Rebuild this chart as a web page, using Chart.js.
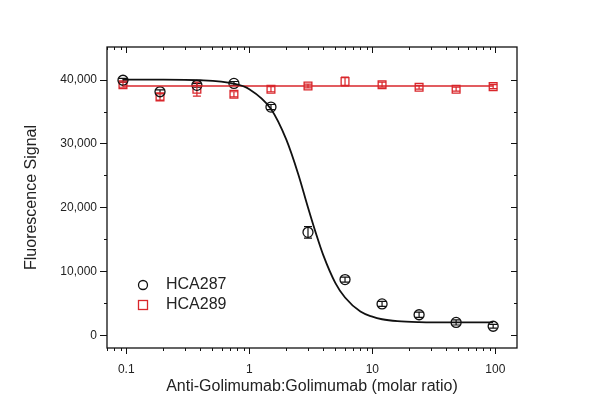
<!DOCTYPE html>
<html>
<head>
<meta charset="utf-8">
<script src="https://cdn.jsdelivr.net/npm/chart.js@4.4.1/dist/chart.umd.min.js"></script>
<style>
  body { margin: 0; background: #fff; }
</style>
</head>
<body>
<canvas id="chart" width="600" height="418"></canvas>
<script>
// molar ratios (x)
const ratios = [0.094, 0.188, 0.375, 0.75, 1.5, 3, 6, 12, 24, 48, 96];

// measured points
const hca287 = [39900, 38100, 39100, 39400, 35700, 16100, 8700, 4900, 3200, 2000, 1400];
const hca287Err = [300, 300, 300, 300, 400, 900, 400, 400, 400, 400, 300];
const hca289 = [39200, 37300, 38500, 37700, 38500, 39000, 39700, 39200, 38800, 38500, 38900];
const hca289Err = [400, 500, 1100, 400, 400, 300, 700, 400, 300, 300, 300];

// fitted curves
const fit287X = [0.094, 0.2, 0.4, 0.75, 1.0, 1.5, 2.0, 2.5, 3.0, 3.5, 4.0, 5.0, 6.0, 8.0, 10, 12, 16, 24, 48, 96];
const fit287Y = [40000, 40000, 39900, 39350, 38500, 35400, 30600, 25200, 20000, 15800, 12500, 8200, 5900, 3700, 2900, 2500, 2200, 2050, 2000, 2000];
const fit289X = [0.094, 96];
const fit289Y = [39000, 39000];

const seriesNames = ['HCA287', 'HCA289'];
const xTickLabels = [0.1, 1, 10, 100];
const yTickLabels = [0, 10000, 20000, 30000, 40000];

const RED = '#d9262b';
const FONT = "'Liberation Sans', Arial, sans-serif";

// minor tick positions for the log axis
const xTickValues = [];
for (let e = -2; e <= 2; e++) {
    for (let k = 1; k <= 9; k++) {
        const v = k * Math.pow(10, e);
        if (v >= 0.069 && v <= 150) xTickValues.push(v);
    }
}
const yTickValues = [0, 5000, 10000, 15000, 20000, 25000, 30000, 35000, 40000];

function isMajorX(v) {
    return xTickLabels.some(t => Math.abs(t - v) / t < 1e-6);
}

function pts(xs, ys) {
    return xs.map((x, i) => ({ x: x, y: ys[i] }));
}

const framePlugin = {
    id: 'frame',
    beforeDatasetsDraw(chart) {
        const ctx = chart.ctx;
        const x = chart.scales.x, y = chart.scales.y;
        // error bars
        const sets = [[hca287, hca287Err, '#111'], [hca289, hca289Err, RED]];
        ctx.save();
        ctx.lineWidth = 1.2;
        sets.forEach(([vals, errs, col]) => {
            ctx.strokeStyle = col;
            ratios.forEach((r, i) => {
                const px = x.getPixelForValue(r);
                const y1 = y.getPixelForValue(vals[i] - errs[i]);
                const y2 = y.getPixelForValue(vals[i] + errs[i]);
                ctx.beginPath();
                ctx.moveTo(px, y1); ctx.lineTo(px, y2);
                ctx.moveTo(px - 4, y1); ctx.lineTo(px + 4, y1);
                ctx.moveTo(px - 4, y2); ctx.lineTo(px + 4, y2);
                ctx.stroke();
            });
        });
        ctx.restore();
    },
    afterDatasetsDraw(chart) {
        const ctx = chart.ctx;
        const a = chart.chartArea;
        const x = chart.scales.x, y = chart.scales.y;
        ctx.save();
        ctx.strokeStyle = '#111';
        ctx.lineWidth = 1.3;
        ctx.strokeRect(a.left, a.top, a.right - a.left, a.bottom - a.top);
        ctx.lineWidth = 1;
        ctx.beginPath();
        xTickValues.forEach(v => {
            const px = Math.round(x.getPixelForValue(v)) + 0.5;
            const len = isMajorX(v) ? 6 : 3;
            ctx.moveTo(px, a.bottom); ctx.lineTo(px, a.bottom + len);
            ctx.moveTo(px, a.top); ctx.lineTo(px, a.top + len);
        });
        yTickValues.forEach(v => {
            const py = Math.round(y.getPixelForValue(v)) + 0.5;
            const major = yTickLabels.includes(v);
            ctx.moveTo(a.left, py); ctx.lineTo(a.left - (major ? 7 : 3), py);
            ctx.moveTo(a.right, py); ctx.lineTo(a.right - (major ? 6 : 3), py);
        });
        ctx.stroke();

        // legend inside the plot
        const lx = 143, ly = [285, 305];
        ctx.font = '16px ' + FONT;
        ctx.textBaseline = 'middle';
        ctx.fillStyle = '#222';
        ctx.lineWidth = 1.3;
        ctx.strokeStyle = '#111';
        ctx.beginPath();
        ctx.arc(lx, ly[0], 4.5, 0, Math.PI * 2);
        ctx.stroke();
        ctx.strokeStyle = RED;
        ctx.strokeRect(lx - 4.5, ly[1] - 4.5, 9, 9);
        ctx.fillText(seriesNames[0], 166, ly[0]);
        ctx.fillText(seriesNames[1], 166, ly[1]);
        ctx.restore();
    }
};

new Chart(document.getElementById('chart').getContext('2d'), {
    type: 'scatter',
    data: {
        datasets: [
            {
                label: seriesNames[0] + ' fit',
                data: pts(fit287X, fit287Y),
                showLine: true,
                borderColor: '#111',
                borderWidth: 1.8,
                pointRadius: 0,
                cubicInterpolationMode: 'monotone'
            },
            {
                label: seriesNames[1] + ' fit',
                data: pts(fit289X, fit289Y),
                showLine: true,
                borderColor: RED,
                borderWidth: 1.5,
                pointRadius: 0
            },
            {
                label: seriesNames[0],
                data: pts(ratios, hca287),
                pointStyle: 'circle',
                pointRadius: 5,
                borderColor: '#111',
                borderWidth: 1.3,
                backgroundColor: 'rgba(0,0,0,0)'
            },
            {
                label: seriesNames[1],
                data: pts(ratios, hca289),
                pointStyle: 'rect',
                pointRadius: 5.5,
                borderColor: RED,
                borderWidth: 1.3,
                backgroundColor: 'rgba(0,0,0,0)'
            }
        ]
    },
    options: {
        responsive: false,
        animation: false,
        devicePixelRatio: 1,
        layout: { padding: { top: 47, right: 83, left: 22, bottom: 0 } },
        plugins: {
            legend: { display: false },
            tooltip: { enabled: false }
        },
        scales: {
            x: {
                type: 'logarithmic',
                min: 0.0697,
                max: 150,
                afterFit: s => { s.height = 70; },
                afterBuildTicks: s => { s.ticks = xTickValues.map(v => ({ value: v })); },
                grid: { display: false, drawTicks: false },
                border: { display: false },
                ticks: {
                    autoSkip: false,
                    maxRotation: 0,
                    padding: 14,
                    color: '#222',
                    font: { family: FONT, size: 12 },
                    callback: v => isMajorX(v) ? String(xTickLabels.find(t => Math.abs(t - v) / t < 1e-6)) : ''
                },
                title: {
                    display: true,
                    text: 'Anti-Golimumab:Golimumab (molar ratio)',
                    color: '#222',
                    font: { family: FONT, size: 16 },
                    padding: { top: 4, bottom: 22 }
                }
            },
            y: {
                min: -2000,
                max: 45100,
                afterFit: s => { s.width = 85; },
                afterBuildTicks: s => { s.ticks = yTickValues.map(v => ({ value: v })); },
                grid: { display: false, drawTicks: false },
                border: { display: false },
                ticks: {
                    padding: 10,
                    color: '#222',
                    font: { family: FONT, size: 12 },
                    callback: v => yTickLabels.includes(v) ? v.toLocaleString('en-US') : ''
                },
                title: {
                    display: true,
                    text: 'Fluorescence Signal',
                    color: '#222',
                    font: { family: FONT, size: 16 },
                    padding: { top: 0, bottom: 0 }
                }
            }
        }
    },
    plugins: [framePlugin]
});
</script>
</body>
</html>
